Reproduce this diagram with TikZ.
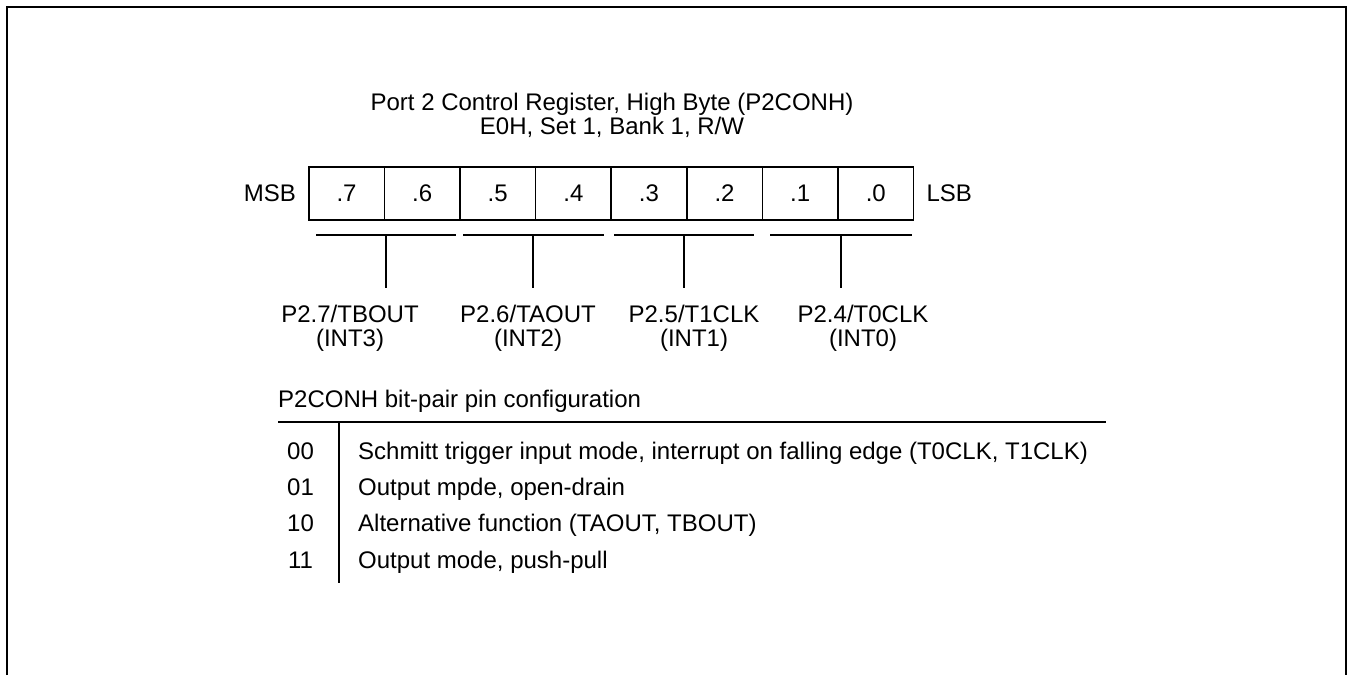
\documentclass[tikz,border=0pt]{standalone}
\usepackage{fontspec}
\setmainfont{Liberation Sans}
\usetikzlibrary{positioning}

\tikzset{
  bitcell/.style={draw, line width=1.5pt, minimum width=75.6pt, minimum height=53pt, inner sep=0pt, anchor=west},
  wire/.style={line width=1.5pt},
  pinlabel/.style={align=center, anchor=north, inner sep=0pt},
}

\begin{document}
\begin{tikzpicture}[x=1pt, y=-1pt, inner sep=0pt, font=\fontsize{24}{24}\selectfont]
  \useasboundingbox (0,0) rectangle (1348,675);
  % open frame
  \draw[line width=2.2pt] (7,675) -- (7,7) -- (1346,7) -- (1346,675);

  % title
  \node[align=center, anchor=north] (title) at (612,93.3)
    {Port 2 Control Register, High Byte (P2CONH)\\E0H, Set 1, Bank 1, R/W};

  % register bits
  \foreach \b [count=\i from 0] in {7,6,...,0}
    \node[bitcell] (b\b) at ({308+75.6*\i},193.5) {.\b};
  \node[left=12pt of b7] (msb) {MSB};
  \node[right=12pt of b0] (lsb) {LSB};

  % bit pairs
  \coordinate (g7l) at (316,235);  \coordinate (g7r) at (456,235);
  \coordinate (g6l) at (463,235);  \coordinate (g6r) at (604,235);
  \coordinate (g5l) at (614,235);  \coordinate (g5r) at (754,235);
  \coordinate (g4l) at (770,235);  \coordinate (g4r) at (912,235);
  \coordinate (s7) at (386,235);   \coordinate (e7) at (386,288);
  \coordinate (s6) at (533,235);   \coordinate (e6) at (533,288);
  \coordinate (s5) at (684,235);   \coordinate (e5) at (684,288);
  \coordinate (s4) at (841,235);   \coordinate (e4) at (841,288);
  \draw[wire] (g7l) -- (g7r) (s7) -- (e7);
  \draw[wire] (g6l) -- (g6r) (s6) -- (e6);
  \draw[wire] (g5l) -- (g5r) (s5) -- (e5);
  \draw[wire] (g4l) -- (g4r) (s4) -- (e4);

  \node[pinlabel] (pin7) at (350,305.3) {P2.7/TBOUT\\(INT3)};
  \node[pinlabel] (pin6) at (528,305.3) {P2.6/TAOUT\\(INT2)};
  \node[pinlabel] (pin5) at (694,305.3) {P2.5/T1CLK\\(INT1)};
  \node[pinlabel] (pin4) at (863,305.3) {P2.4/T0CLK\\(INT0)};

  % configuration table
  \node[anchor=base west] (cfg) at (278,407) {P2CONH bit-pair pin configuration};
  \coordinate (rl) at (278,422);  \coordinate (rr) at (1106,422);
  \coordinate (vt) at (339,422);  \coordinate (vb) at (339,583);
  \draw[wire] (rl) -- (rr);
  \draw[wire] (vt) -- (vb);

  \node[anchor=base] (c00) at (300.5,459) {00};
  \node[anchor=base] (c01) at (300.5,495) {01};
  \node[anchor=base] (c10) at (300.5,531) {10};
  \node[anchor=base] (c11) at (300.5,568) {11};
  \node[anchor=base west] (d00) at (358,459) {Schmitt trigger input mode, interrupt on falling edge (T0CLK, T1CLK)};
  \node[anchor=base west] (d01) at (358,495) {Output mpde, open-drain};
  \node[anchor=base west] (d10) at (358,531) {Alternative function (TAOUT, TBOUT)};
  \node[anchor=base west] (d11) at (358,568) {Output mode, push-pull};
\end{tikzpicture}
\end{document}
